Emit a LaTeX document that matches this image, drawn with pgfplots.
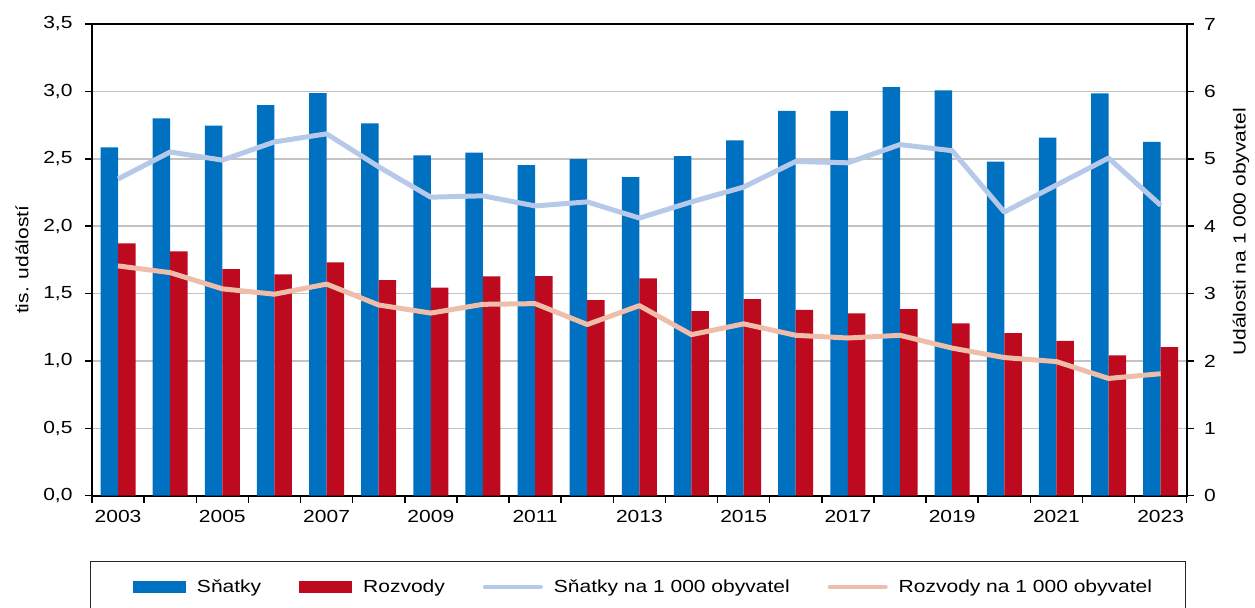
\documentclass[border=0pt]{standalone}
\usepackage{fontspec}
\setmainfont[FakeStretch=1.2]{Liberation Sans}
\usepackage{pgfplots}
\pgfplotsset{compat=1.18}
\definecolor{cBlue}{RGB}{0,112,192}
\definecolor{cRed}{RGB}{190,10,30}
\definecolor{cLBlue}{RGB}{182,201,233}
\definecolor{cPink}{RGB}{238,190,170}
\definecolor{gridgray}{RGB}{195,195,195}
\newcommand{\fs}{\fontsize{17.5bp}{20bp}\selectfont}
\begin{document}
\begin{tikzpicture}[x=1bp,y=1bp]
\useasboundingbox (0,0) rectangle (1255,608);
\pgfplotsset{
  base/.style={
    at={(92bp,112.3bp)}, anchor=south west, scale only axis,
    width=1094.7bp, height=471.7bp,
    xmin=-0.5, xmax=20.5,
    tick label style={font=\fs},
    /pgf/number format/assume math mode=true,
    axis line style={line width=2.25bp, black},
    tick style={line width=1.5bp, black},
    tick align=outside, major tick length=7bp, minor tick length=7bp,
  }
}
\begin{axis}[base,
  ymin=0, ymax=3.5, ytick={0,0.5,...,3.5},
  ybar=0pt, bar width=17.5bp,
  ymajorgrids, major grid style={line width=1.5bp, gridgray},
  xtick={0,2,...,20},
  xticklabels={2003,2005,2007,2009,2011,2013,2015,2017,2019,2021,2023},
  xticklabel style={yshift=-4bp},
  major x tick style={draw=none},
  minor xtick={-0.5,0.5,...,20.5},
  xtick pos=bottom, ytick pos=left,
  yticklabel style={xshift=-9bp, /pgf/number format/.cd, fixed, fixed zerofill, precision=1, use comma},
  every axis y label/.style={at={(axis description cs:-0.0639,0.5)}, rotate=90, anchor=center, font=\fs},
  ylabel={tis. událostí},
]
\addplot[fill=cBlue, draw=none] coordinates {
(0,2.585) (1,2.80) (2,2.745) (3,2.898) (4,2.987) (5,2.763) (6,2.525) (7,2.545) (8,2.453) (9,2.498) (10,2.364)
(11,2.520) (12,2.637) (13,2.856) (14,2.856) (15,3.032) (16,3.007) (17,2.478) (18,2.656) (19,2.985) (20,2.626)};
\addplot[fill=cRed, draw=none] coordinates {
(0,1.872) (1,1.813) (2,1.682) (3,1.642) (4,1.731) (5,1.600) (6,1.543) (7,1.628) (8,1.630) (9,1.452) (10,1.612)
(11,1.370) (12,1.459) (13,1.378) (14,1.353) (15,1.385) (16,1.279) (17,1.207) (18,1.148) (19,1.042) (20,1.103)};
\end{axis}
\begin{axis}[base,
  ymin=0, ymax=7, ytick={0,1,...,7},
  axis x line=none, axis y line*=right,
  yticklabel style={xshift=7bp},
  every axis y label/.style={at={(axis description cs:1.0496,0.559)}, rotate=90, anchor=center, font=\fs},
  ylabel={Události na 1 000 obyvatel},
  legend columns=4,
  legend style={at={(axis description cs:0.4988,-0.1936)}, anchor=center,
    draw=black!85, line width=1bp, font=\fs,
    inner xsep=33bp, inner ysep=18bp,
    nodes={inner sep=0pt},
    /tikz/every odd column/.append style={column sep=11bp},
    /tikz/every even column/.append style={column sep=38bp}},
]
\addlegendimage{legend image code/.code={\path (-9bp,0bp); \fill[cBlue] (0bp,-5.2bp) rectangle (52bp,5.2bp);}}
\addlegendentry{Sňatky}
\addlegendimage{legend image code/.code={\fill[cRed] (0bp,-5.2bp) rectangle (52bp,5.2bp);}}
\addlegendentry{Rozvody}
\addplot[cLBlue, line width=5bp, line join=round, sharp plot,
  legend image code/.code={\draw[cLBlue, line width=4bp, line cap=round] (0bp,0bp) -- (56bp,0bp);}] coordinates {
(0,4.70) (1,5.10) (2,4.98) (3,5.25) (4,5.37) (5,4.88) (6,4.43) (7,4.45) (8,4.30) (9,4.36) (10,4.12)
(11,4.36) (12,4.58) (13,4.96) (14,4.94) (15,5.21) (16,5.12) (17,4.21) (18,4.61) (19,5.01) (20,4.31)};
\addlegendentry{Sňatky na 1 000 obyvatel}
\addplot[cPink, line width=5bp, line join=round, sharp plot,
  legend image code/.code={\draw[cPink, line width=4bp, line cap=round] (0bp,0bp) -- (56bp,0bp);}] coordinates {
(0,3.41) (1,3.31) (2,3.07) (3,2.99) (4,3.14) (5,2.83) (6,2.71) (7,2.84) (8,2.85) (9,2.54) (10,2.82)
(11,2.39) (12,2.55) (13,2.38) (14,2.34) (15,2.38) (16,2.19) (17,2.05) (18,1.99) (19,1.74) (20,1.81)};
\addlegendentry{Rozvody na 1 000 obyvatel}
\end{axis}
\end{tikzpicture}
\end{document}
